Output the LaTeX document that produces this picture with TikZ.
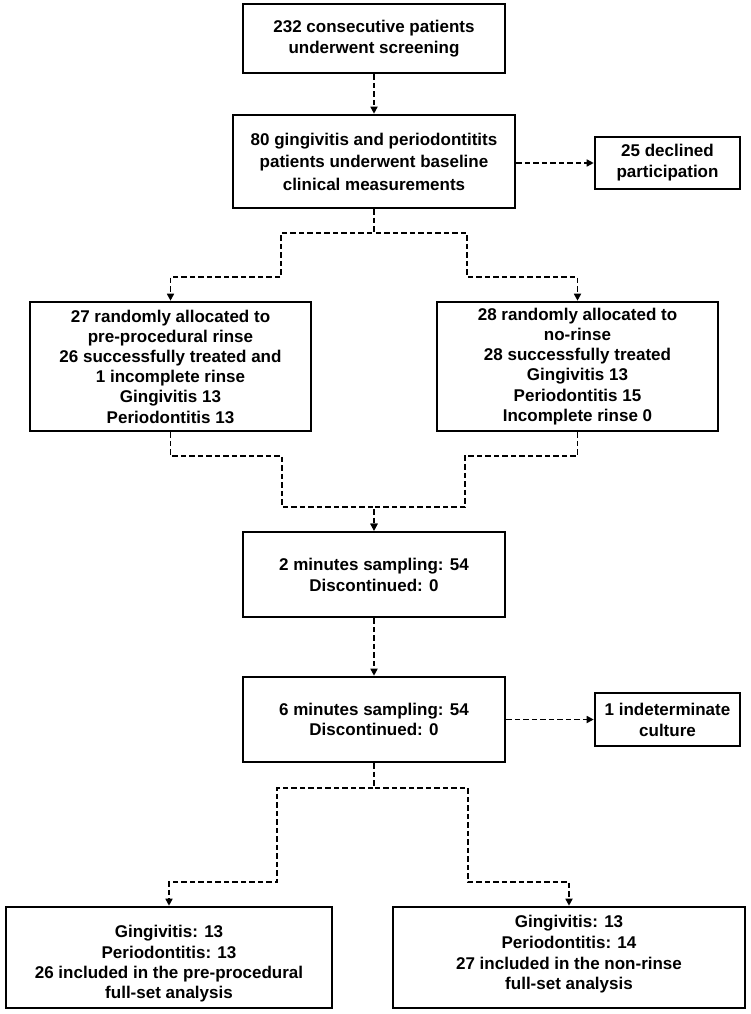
\documentclass[tikz,border=0pt]{standalone}
\usepackage{fontspec}
\setmainfont{Liberation Sans}
\usetikzlibrary{arrows.meta}
\begin{document}
\begin{tikzpicture}[x=1pt,y=-1pt,
  box/.style={draw=black, line width=2.6pt, rectangle, inner sep=0pt, align=center,
    font=\bfseries\fontsize{17}{21}\selectfont},
  conn/.style={line width=1.6pt, dash pattern=on 5.5pt off 3pt},
  arr/.style={conn, -{Triangle[length=7pt,width=7pt]}}]
\useasboundingbox (0,0) rectangle (750,1014);
% nodes
\node[box, minimum width=262pt, minimum height=69pt] (b1) at (374,38.5)
  {232 consecutive patients\\underwent screening};
\node[box, minimum width=282pt, minimum height=93pt,
  font=\bfseries\fontsize{17}{22.5}\selectfont] (b2) at (374,161.5)
  {80 gingivitis and periodontitits\\patients underwent baseline\\clinical measurements};
\node[box, minimum width=145pt, minimum height=52pt] (dec) at (667.5,163)
  {25 declined\\participation};
\node[box, minimum width=281pt, minimum height=129pt,
  font=\bfseries\fontsize{17}{20.2}\selectfont] (b3) at (170.5,366.5)
  {27 randomly allocated to\\pre-procedural rinse\\26 successfully treated and\\1 incomplete rinse\\Gingivitis 13\\Periodontitis 13};
\node[box, minimum width=281pt, minimum height=129pt,
  font=\bfseries\fontsize{17}{20.2}\selectfont] (b4) at (577.5,366.5)
  {28 randomly allocated to\\no-rinse\\28 successfully treated\\Gingivitis 13\\Periodontitis 15\\Incomplete rinse 0};
\node[box, minimum width=262pt, minimum height=85pt] (b5) at (374,574.5)
  {2 minutes sampling: 54\\Discontinued: 0};
\node[box, minimum width=262pt, minimum height=85pt,
  font=\bfseries\fontsize{17}{19.5}\selectfont] (b6) at (374,719.5)
  {6 minutes sampling: 54\\Discontinued: 0};
\node[box, minimum width=145pt, minimum height=53pt] (ind) at (667.5,719.5)
  {1 indeterminate\\culture};
\node[box, minimum width=326pt, minimum height=101pt,
  font=\bfseries\fontsize{17}{20.3}\selectfont] (b7) at (169,957.5)
  {\rule{0pt}{25pt}Gingivitis: 13\\Periodontitis: 13\\26 included in the pre-procedural\\full-set analysis};
\node[box, minimum width=352pt, minimum height=101pt,
  font=\bfseries\fontsize{17}{20.8}\selectfont] (b8) at (569,957.5)
  {Gingivitis: 13\\Periodontitis: 14\\27 included in the non-rinse\\full-set analysis\rule[-10pt]{0pt}{0pt}};
% bend coordinates
\coordinate (aL) at (281,233);
\coordinate (aR) at (467,233);
\coordinate (bL) at (281,277);
\coordinate (bR) at (467,277);
\coordinate (cL) at (282,456);
\coordinate (cR) at (465,456);
\coordinate (dL) at (282,507);
\coordinate (dR) at (465,507);
\coordinate (eL) at (277,788);
\coordinate (eR) at (468,788);
\coordinate (fL) at (277,882);
\coordinate (fR) at (468,882);
% connectors
\draw[arr] (b1.south) -- (b2.north);
\draw[arr] (b2.east |- dec.west) -- (dec.west);
\draw[arr] (b2.south) |- (aL) -- (bL) -| (b3.north);
\draw[arr] (b2.south) |- (aR) -- (bR) -| (b4.north);
\draw[arr] (b3.south) |- (cL) -- (dL) -| (b5.north);
\draw[arr] (b4.south) |- (cR) -- (dR) -| (b5.north);
\draw[arr] (b5.south) -- (b6.north);
\draw[arr] (b6.east |- ind.west) -- (ind.west);
\draw[arr] (b6.south) |- (eL) -- (fL) -| (b7.north);
\draw[arr] (b6.south) |- (eR) -- (fR) -| (b8.north);
\end{tikzpicture}
\end{document}
